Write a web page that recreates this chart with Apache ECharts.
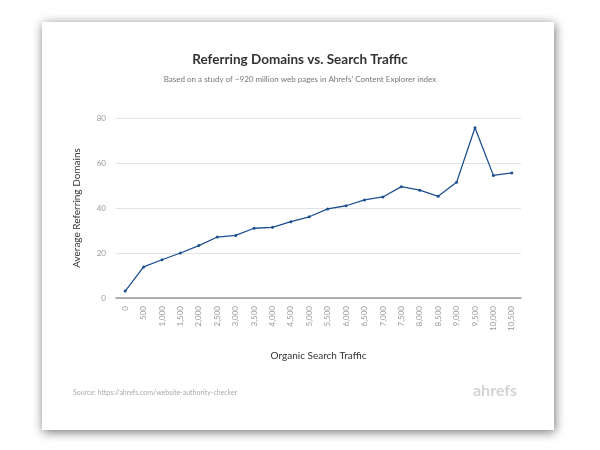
<!DOCTYPE html>
<html>
<head>
<meta charset="utf-8">
<style>
html,body{margin:0;padding:0;background:#fff;}
#main{width:600px;height:450px;}
</style>
<script src="https://cdn.jsdelivr.net/npm/echarts@6/dist/echarts.min.js"></script>
</head>
<body>
<div id="main"></div>
<script>
// organic search traffic buckets (x axis)
var traffic = ['0','500','1,000','1,500','2,000','2,500','3,000','3,500','4,000','4,500','5,000',
    '5,500','6,000','6,500','7,000','7,500','8,000','8,500','9,000','9,500','10,000','10,500'];
// average referring domains per bucket
var domains = [3.1,13.8,17.0,20.0,23.3,27.1,27.8,31.0,31.4,33.9,36.1,
    39.6,41.0,43.6,44.9,49.5,47.9,45.2,51.4,75.7,54.5,55.6];
var yTicks = [0,20,40,60,80];

var chart = echarts.init(document.getElementById('main'));
var font = 'Lato, "Open Sans", sans-serif';

var option = {
    backgroundColor: '#fff',
    animation: false,
    title: {
        text: 'Referring Domains vs. Search Traffic',
        subtext: 'Based on a study of ~920 million web pages in Ahrefs\' Content Explorer index',
        left: 'center',
        top: 48,
        itemGap: 8,
        textStyle: {fontFamily: font, fontSize: 13.5, fontWeight: 'bold', color: '#333'},
        subtextStyle: {fontFamily: font, fontSize: 8, color: '#777'}
    },
    graphic: [
        {
            type: 'rect', z: -10, silent: true,
            shape: {x: 42, y: 22, width: 512, height: 408},
            style: {fill: '#fff', shadowBlur: 10, shadowColor: 'rgba(0,0,0,0.55)', shadowOffsetX: 1, shadowOffsetY: 2}
        },
        {
            type: 'text', left: 73, top: 389,
            style: {text: 'Source: https://ahrefs.com/website-authority-checker', fill: '#aaa', font: '7px ' + font}
        },
        {
            type: 'text', left: 473, top: 383,
            style: {text: 'ahrefs', fill: '#d4d4d4', font: 'bold 16px ' + font}
        }
    ],
    grid: {left: 116, right: 79, top: 118, bottom: 152},
    xAxis: {
        type: 'category',
        data: traffic,
        boundaryGap: true,
        name: 'Organic Search Traffic',
        nameLocation: 'middle',
        nameGap: 53,
        nameTextStyle: {fontFamily: font, fontSize: 10, color: '#333'},
        axisLine: {lineStyle: {color: '#999', width: 1.5}},
        axisTick: {alignWithLabel: true, length: 6, lineStyle: {color: '#777'}},
        axisLabel: {rotate: 90, fontFamily: font, fontSize: 8, color: '#999', margin: 8, interval: 0}
    },
    yAxis: {
        type: 'value',
        min: yTicks[0],
        max: yTicks[yTicks.length - 1],
        interval: 20,
        name: 'Average Referring Domains',
        nameLocation: 'middle',
        nameGap: 34,
        nameTextStyle: {fontFamily: font, fontSize: 10, color: '#333'},
        axisLine: {show: false},
        axisTick: {show: false},
        axisLabel: {fontFamily: font, fontSize: 8, color: '#999', margin: 10},
        splitLine: {lineStyle: {color: '#e3e3e3', width: 1}}
    },
    series: [{
        type: 'line',
        data: domains,
        symbol: 'circle',
        symbolSize: 3,
        lineStyle: {color: '#1e4f91', width: 1.3},
        itemStyle: {color: '#1e4f91'}
    }]
};

chart.setOption(option);
</script>
</body>
</html>
